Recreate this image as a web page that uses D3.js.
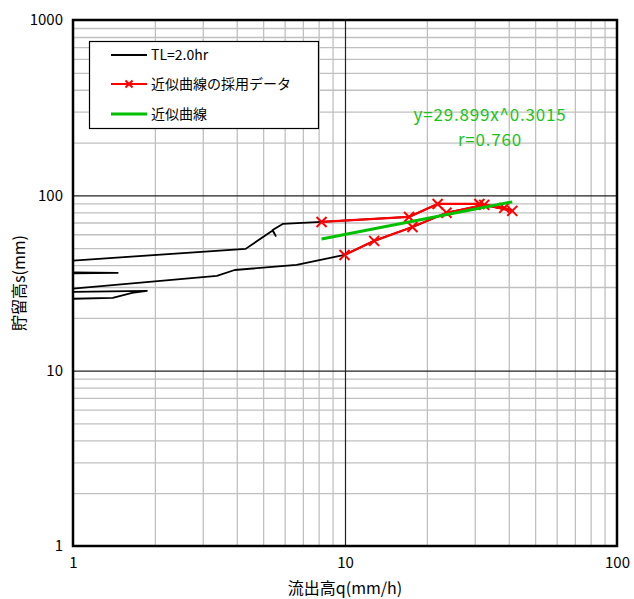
<!DOCTYPE html>
<html>
<head>
<meta charset="utf-8">
<script src="https://cdn.jsdelivr.net/npm/d3@7"></script>
<style>
	body { margin: 0; background: #fff; }
	svg text { font-family: "Noto Sans CJK JP", "Noto Sans", sans-serif; }
</style>
</head>
<body>
<svg id="chart" width="634" height="599"></svg>
<script>
// TL=2.0hr hydrograph loop (q, s)
const tlQ = [0.7, 4.31, 5.42, 5.56, 5.42, 5.9, 8.2, 17.2, 21.9, 31.2, 38.5, 41.2, 32.5, 23.6, 17.7, 12.8, 9.96, 6.64, 3.93, 3.38, 0.7,
	1.87, 1.65, 1.40, 0.7, 0.7, 1.46, 0.7]
const tlS = [40.9, 49.5, 63.0, 58.7, 63.5, 68.7, 70.5, 75.3, 89.3, 89.3, 84.8, 81.5, 88.2, 79.5, 66.0, 55.0, 45.7, 40.1, 37.5, 34.7, 28.0,
	28.5, 27.8, 26.0, 25.4, 35.6, 36.1, 36.6]

// points used for the fit
const useQ = [8.2, 17.2, 21.9, 31.2, 38.5, 41.2, 32.5, 23.6, 17.7, 12.8, 9.96]
const useS = [70.5, 75.3, 89.3, 89.3, 84.8, 81.5, 88.2, 79.5, 66.0, 55.0, 45.7]

// fitted curve end points
const fitQ = [8.2, 41.2]
const fitS = [56.3, 91.8]

const fitLabels = ['y=29.899x^0.3015', 'r=0.760']
const legendLabels = ['TL=2.0hr', '近似曲線の採用データ', '近似曲線']
const xTicks = [1, 10, 100]
const yTicks = [1, 10, 100, 1000]

const margin = {left: 73, right: 17, top: 20, bottom: 53}
const width = 634, height = 599
const svg = d3.select('#chart')

const x = d3.scaleLog().domain([1, 100]).range([margin.left, width - margin.right])
const y = d3.scaleLog().domain([1, 1000]).range([height - margin.bottom, margin.top])
const [x0, x1] = x.range(), [y0, y1] = y.range()

const minorOf = (lo, hi) => d3.range(Math.log10(lo), Math.log10(hi))
	.flatMap(e => d3.range(2, 10).map(m => m * 10 ** e))

svg.append('defs').append('clipPath').attr('id', 'plot')
	.append('rect').attr('x', x0).attr('y', y1).attr('width', x1 - x0).attr('height', y0 - y1)

// grid
const grid = svg.append('g')
grid.append('g').attr('transform', `translate(0,${y0})`)
	.call(d3.axisBottom(x).tickValues(minorOf(1, 100)).tickSize(-(y0 - y1)).tickFormat(''))
	.call(g => g.selectAll('line').attr('stroke', '#c0c0c0').attr('stroke-width', 1.3))
grid.append('g').attr('transform', `translate(${x0},0)`)
	.call(d3.axisLeft(y).tickValues(minorOf(1, 1000)).tickSize(-(x1 - x0)).tickFormat(''))
	.call(g => g.selectAll('line').attr('stroke', '#c0c0c0').attr('stroke-width', 1.3))
grid.append('g').attr('transform', `translate(0,${y0})`)
	.call(d3.axisBottom(x).tickValues([10]).tickSize(-(y0 - y1)).tickFormat(''))
	.call(g => g.selectAll('line').attr('stroke', '#222').attr('stroke-width', 1.2))
grid.append('g').attr('transform', `translate(${x0},0)`)
	.call(d3.axisLeft(y).tickValues([10, 100]).tickSize(-(x1 - x0)).tickFormat(''))
	.call(g => g.selectAll('line').attr('stroke', '#222').attr('stroke-width', 1.2))
grid.selectAll('.domain').remove()

// tick labels
svg.append('g').attr('transform', `translate(0,${y0 + 8})`)
	.call(d3.axisBottom(x).tickValues(xTicks).tickSize(0).tickFormat(d3.format('d')))
	.call(g => g.select('.domain').remove())
	.call(g => g.selectAll('text').attr('font-size', 15).attr('fill', '#000')
		.attr('font-family', '"Noto Sans CJK JP", sans-serif'))
svg.append('g').attr('transform', `translate(${x0 - 7},0)`)
	.call(d3.axisLeft(y).tickValues(yTicks).tickSize(0).tickFormat(d3.format('d')))
	.call(g => g.select('.domain').remove())
	.call(g => g.selectAll('text').attr('font-size', 15).attr('fill', '#000')
		.attr('font-family', '"Noto Sans CJK JP", sans-serif'))

// series
const line = d3.line().x(d => x(d[0])).y(d => y(d[1]))
const plot = svg.append('g').attr('clip-path', 'url(#plot)')

plot.append('path').datum(d3.zip(tlQ, tlS))
	.attr('d', line).attr('fill', 'none').attr('stroke', '#000').attr('stroke-width', 1.8)
	.attr('stroke-linejoin', 'round')

const used = d3.zip(useQ, useS)
plot.append('path').datum(used)
	.attr('d', line).attr('fill', 'none').attr('stroke', '#ff0000').attr('stroke-width', 2.2)

const cross = (g, s) => g.append('path')
	.attr('d', `M${-s},${-s}L${s},${s}M${-s},${s}L${s},${-s}`)
	.attr('stroke', '#ff0000').attr('stroke-width', 2).attr('fill', 'none')
plot.selectAll('.mark').data(used).join('g').attr('class', 'mark')
	.attr('transform', d => `translate(${x(d[0])},${y(d[1])})`)
	.each(function() { cross(d3.select(this), 5) })

plot.append('path').datum(d3.zip(fitQ, fitS))
	.attr('d', line).attr('fill', 'none').attr('stroke', '#00c000').attr('stroke-width', 3)

// fit formula
svg.append('g').selectAll('text').data(fitLabels).join('text')
	.attr('x', 490).attr('y', (d, i) => 121 + i * 25)
	.attr('text-anchor', 'middle').attr('font-size', 17).attr('letter-spacing', 0.8)
	.attr('fill', '#19c419')
	.text(d => d)

// plot border
svg.append('rect').attr('x', x0).attr('y', y1).attr('width', x1 - x0).attr('height', y0 - y1)
	.attr('fill', 'none').attr('stroke', '#000').attr('stroke-width', 2.5)

// legend
const legend = svg.append('g')
legend.append('rect').attr('x', 89.5).attr('y', 41.5).attr('width', 229).attr('height', 87)
	.attr('fill', '#fff').attr('stroke', '#000').attr('stroke-width', 1.2)
const legendStyles = [
	{color: '#000', w: 1.8, mark: false},
	{color: '#ff0000', w: 2, mark: true},
	{color: '#00c000', w: 3, mark: false}
]
const rowY = [55, 84, 114]
legendLabels.forEach((label, i) => {
	const s = legendStyles[i]
	legend.append('line').attr('x1', 111).attr('x2', 147).attr('y1', rowY[i]).attr('y2', rowY[i])
		.attr('stroke', s.color).attr('stroke-width', s.w)
	if (s.mark) cross(legend.append('g').attr('transform', `translate(129,${rowY[i]})`), 3.5)
	legend.append('text').attr('x', 151).attr('y', rowY[i] + 5)
		.attr('font-size', 14).attr('fill', '#000').text(label)
})

// axis titles
svg.append('text').attr('x', (x0 + x1) / 2).attr('y', 594).attr('text-anchor', 'middle')
	.attr('font-size', 16).text('流出高q(mm/h)')
svg.append('text').attr('transform', `translate(25,${(y0 + y1) / 2}) rotate(-90)`)
	.attr('text-anchor', 'middle').attr('font-size', 16).text('貯留高s(mm)')
</script>
</body>
</html>
